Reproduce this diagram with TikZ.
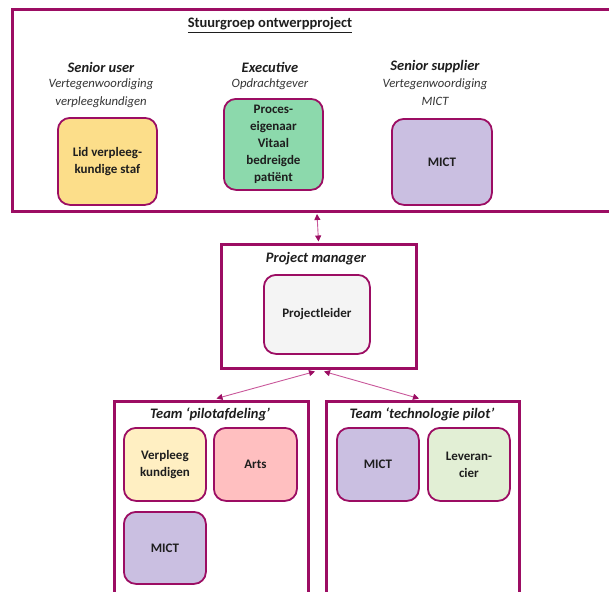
\documentclass[tikz,border=0pt]{standalone}
\usepackage{fontspec}
\setmainfont{Carlito}
\usetikzlibrary{calc,arrows.meta}
\definecolor{frame}{HTML}{9C0D63}
\definecolor{link}{HTML}{C9579A}
\definecolor{ink}{HTML}{1E1E1E}
\definecolor{fyellow}{HTML}{FCDE8A}
\definecolor{fgreen}{HTML}{8CD9AC}
\definecolor{fpurple}{HTML}{CABFE1}
\definecolor{fgrey}{HTML}{F4F4F4}
\definecolor{fcream}{HTML}{FFEFC2}
\definecolor{fpink}{HTML}{FFBFC0}
\definecolor{flime}{HTML}{E2EFD5}
\tikzset{
  group/.style={draw=frame, line width=3pt, fill=white, anchor=north west, inner sep=0pt},
  role/.style={draw=frame, line width=1.8pt, rounded corners=12pt, anchor=north west,
    inner sep=0pt, align=center, text=ink, font=\fontsize{13}{17}\selectfont\bfseries},
  heading/.style={text=ink, font=\fontsize{14.5}{17}\selectfont\bfseries\itshape, inner sep=0pt},
  subhead/.style={text=ink!90, font=\fontsize{12.7}{18}\selectfont\itshape, inner sep=0pt, align=center},
  link/.style={draw=link, line width=0.9pt, {Triangle[length=6pt,width=6pt,color=frame]}-{Triangle[length=6pt,width=6pt,color=frame]}}
}
\begin{document}
\begin{tikzpicture}[x=1pt,y=-1pt]
\useasboundingbox (0,0) rectangle (609,591);

% steering group
\node[group, minimum width=620pt, minimum height=201pt] (stuur) at (10.5,8.5) {};
\node[text=ink, font=\fontsize{14.5}{17}\selectfont\bfseries, inner sep=0pt] (stuurtitle) at (270,25) {\underline{Stuurgroep ontwerpproject}};

\node[heading] (suser) at (101,67) {Senior user};
\node[subhead, anchor=north] (suserdesc) at (101,78) {Vertegenwoordiging\\verpleegkundigen};
\node[heading] (exec) at (270,67) {Executive};
\node[subhead, anchor=north] (execdesc) at (270,78) {Opdrachtgever};
\node[heading] (ssup) at (435,67) {Senior supplier};
\node[subhead, anchor=north] (ssupdesc) at (435,78) {Vertegenwoordiging\\MICT};

\node[role, fill=fyellow, minimum width=99pt, minimum height=87pt] (lid) at (57,117) {Lid verpleeg-\\kundige staf};
\node[role, fill=fgreen, minimum width=99pt, minimum height=91pt] (proces) at (223,98) {Proces-\\eigenaar\\Vitaal\\bedreigde\\patiënt};
\node[role, fill=fpurple, minimum width=100pt, minimum height=86pt] (mictS) at (391,118) {MICT};

% project manager
\node[group, minimum width=195pt, minimum height=124pt] (pm) at (220,243) {};
\node[heading] (pmtitle) at (316,259) {Project manager};
\node[role, fill=fgrey, minimum width=106pt, minimum height=79pt] (leider) at (263,274) {Projectleider};

% teams
\node[group, minimum width=194pt, minimum height=200pt] (teamL) at (113,400) {};
\node[heading] (teamLtitle) at (210,414) {Team ‘pilotafdeling’};
\node[role, fill=fcream, minimum width=82pt, minimum height=73pt] (verpl) at (123,427) {Verpleeg\\kundigen};
\node[role, fill=fpink, minimum width=83pt, minimum height=73pt] (arts) at (213,427) {Arts};
\node[role, fill=fpurple, minimum width=82pt, minimum height=72pt] (mictL) at (123,511) {MICT};

\node[group, minimum width=193pt, minimum height=200pt] (teamR) at (325,400) {};
\node[heading] (teamRtitle) at (422,414) {Team ‘technologie pilot’};
\node[role, fill=fpurple, minimum width=82pt, minimum height=73pt] (mictR) at (336,427) {MICT};
\node[role, fill=flime, minimum width=82pt, minimum height=73pt] (lev) at (427,427) {Leveran-\\cier};

% connectors
\draw[link] ($(stuur.south west) + (306.5,1.5)$) -- ($(pm.north)+(-0.5,-1.5)$);
\draw[link] ($(pm.south)+(-4,1.5)$) -- ($(teamL.north)+(5,-1.5)$);
\draw[link] ($(pm.south)+(5,1.5)$) -- ($(teamR.north)+(-4,-1.5)$);
\end{tikzpicture}
\end{document}
